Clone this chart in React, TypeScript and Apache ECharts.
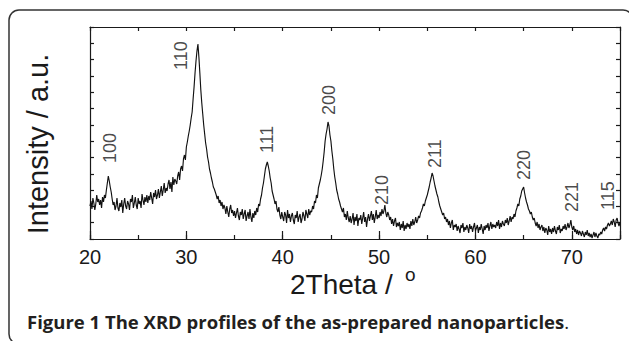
import React, { useEffect, useRef } from "react";
import * as echarts from "echarts";

// XRD scan: start angle and step (degrees 2θ), intensity in arbitrary units
const scanStart = 20;
const scanStep = 0.1;
const intensity = [
  33, 38, 30, 41, 36, 29, 35, 44, 37, 40, // 20
  34, 39, 31, 42, 37, 44, 41, 49, 56, 63, // 21
  58, 52, 47, 40, 34, 37, 29, 33, 41, 31, // 22
  28, 36, 32, 39, 26, 35, 41, 33, 30, 38, // 23
  35, 29, 40, 37, 44, 31, 36, 42, 34, 30, // 24
  41, 35, 38, 31, 45, 39, 34, 42, 37, 44, // 25
  36, 43, 39, 47, 41, 35, 46, 42, 49, 40, // 26
  44, 50, 41, 47, 53, 43, 49, 56, 46, 51, // 27
  48, 55, 59, 50, 57, 47, 62, 54, 60, 58, // 28
  55, 63, 67, 59, 70, 73, 68, 80, 84, 79, // 29
  92, 97, 103, 108, 114, 121, 127, 140, 152, 166, // 30
  178, 188, 195, 182, 166, 149, 136, 125, 114, 105, // 31
  96, 90, 82, 77, 70, 66, 61, 57, 52, 50, // 32
  47, 44, 40, 43, 36, 39, 33, 37, 30, 34, // 33
  31, 25, 33, 27, 22, 30, 34, 26, 29, 23, // 34
  28, 21, 26, 31, 23, 19, 27, 24, 30, 20, // 35
  25, 29, 18, 23, 27, 20, 30, 22, 17, 26, // 36
  21, 28, 24, 31, 27, 35, 33, 40, 44, 51, // 37
  56, 63, 70, 74, 77, 73, 68, 61, 56, 48, // 38
  44, 40, 35, 38, 30, 27, 32, 24, 20, 27, // 39
  22, 18, 27, 24, 16, 29, 21, 25, 17, 23, // 40
  26, 19, 15, 24, 21, 28, 17, 22, 25, 16, // 41
  20, 27, 23, 18, 29, 25, 21, 30, 24, 28, // 42
  27, 33, 30, 38, 36, 44, 41, 51, 55, 59, // 43
  64, 70, 78, 87, 98, 105, 110, 117, 113, 104, // 44
  98, 88, 80, 70, 62, 56, 49, 45, 40, 37, // 45
  33, 30, 27, 31, 22, 25, 19, 28, 21, 17, // 46
  23, 16, 20, 26, 14, 22, 18, 25, 13, 21, // 47
  19, 24, 15, 21, 27, 17, 22, 12, 20, 25, // 48
  18, 23, 28, 19, 25, 16, 22, 29, 20, 24, // 49
  21, 27, 23, 30, 25, 28, 34, 26, 22, 27, // 50
  24, 19, 22, 15, 20, 13, 18, 21, 12, 16, // 51
  13, 17, 9, 15, 11, 18, 8, 14, 10, 16, // 52
  12, 15, 10, 18, 13, 20, 14, 17, 22, 16, // 53
  19, 23, 21, 26, 28, 31, 35, 33, 38, 41, // 54
  44, 48, 52, 57, 61, 66, 63, 58, 53, 49, // 55
  45, 42, 37, 33, 30, 27, 24, 26, 20, 22, // 56
  17, 20, 14, 18, 11, 16, 19, 9, 14, 12, // 57
  15, 8, 13, 10, 6, 14, 11, 16, 7, 12, // 58
  9, 14, 11, 6, 15, 10, 13, 7, 12, 16, // 59
  8, 11, 14, 6, 12, 9, 15, 10, 5, 13, // 60
  9, 14, 11, 16, 8, 13, 17, 10, 15, 12, // 61
  14, 11, 17, 13, 19, 10, 16, 12, 18, 15, // 62
  13, 19, 16, 21, 14, 18, 23, 17, 22, 20, // 63
  25, 22, 28, 31, 35, 33, 40, 43, 48, 50, // 64
  52, 46, 41, 37, 34, 30, 28, 25, 27, 22, // 65
  19, 21, 16, 13, 17, 11, 15, 9, 12, 14, // 66
  8, 12, 6, 11, 9, 4, 13, 7, 10, 5, // 67
  11, 7, 13, 8, 5, 12, 9, 14, 6, 10, // 68
  8, 13, 10, 15, 9, 12, 16, 11, 14, 19, // 69
  12, 9, 13, 7, 10, 5, 9, 4, 8, 6, // 70
  3, 8, 5, 2, 7, 4, 9, 3, 6, 2, // 71
  5, 1, 4, 7, 2, 6, 3, 1, 5, 4, // 72
  7, 5, 9, 11, 8, 12, 10, 14, 16, 13, // 73
  15, 18, 14, 20, 17, 12, 19, 21, 16, 13, // 74
  17, // 75
];

// Miller-index annotations
const peakLabels = ["100", "110", "111", "200", "210", "211", "220", "221", "115"];
const peakLabelAngles = [22.1, 29.4, 38.4, 44.8, 50.3, 55.8, 65.0, 70.0, 73.8];
const peakLabelHeights = [76, 169, 86, 124, 34, 71, 59, 27, 29];

const xTickLabels = [20, 30, 40, 50, 60, 70];
const xMin = 20;
const xMax = 75;
const yMax = 212;
const yDivisions = 13;

const ink = "#1a1a1a";
const font = "'Liberation Sans', Arial, sans-serif";
const captionFont = "'Open Sans', 'Noto Sans', sans-serif";

export default function App() {
  const ref = useRef<HTMLDivElement>(null);

  useEffect(() => {
    document.body.style.margin = "0";
    if (!ref.current) return;
    const chart = echarts.init(ref.current, null, { renderer: "svg" });

    const lineData = intensity.map((v, i) => [
      Math.round((scanStart + i * scanStep) * 10) / 10,
      v,
    ]);
    const labelData = peakLabels.map((name, i) => ({
      name,
      value: [peakLabelAngles[i], peakLabelHeights[i]],
    }));

    const axisLineStyle = { color: ink, width: 1.2 };
    const yStep = yMax / yDivisions;

    const option: any = {
      animation: false,
      grid: { left: 90, right: 9, top: 27, bottom: 102, containLabel: false },
      xAxis: [
        {
          type: "value",
          min: xMin,
          max: xMax,
          interval: 5,
          position: "bottom",
          axisLine: { show: true, onZero: false, lineStyle: axisLineStyle },
          axisTick: { show: true, inside: true, length: 4, lineStyle: axisLineStyle },
          axisLabel: { show: false },
          splitLine: { show: false },
        },
        {
          type: "value",
          min: xMin,
          max: xMax,
          interval: 10,
          position: "bottom",
          axisLine: { show: false, onZero: false },
          axisTick: { show: true, inside: true, length: 8, lineStyle: axisLineStyle },
          axisLabel: {
            show: true,
            margin: 8,
            fontSize: 20,
            fontFamily: font,
            color: ink,
            formatter: (v: number) => (xTickLabels.includes(v) ? String(v) : ""),
          },
          splitLine: { show: false },
        },
        {
          type: "value",
          min: xMin,
          max: xMax,
          interval: 5,
          position: "top",
          axisLine: { show: true, onZero: false, lineStyle: axisLineStyle },
          axisTick: { show: true, inside: true, length: 4, lineStyle: axisLineStyle },
          axisLabel: { show: false },
          splitLine: { show: false },
        },
      ],
      yAxis: [
        {
          type: "value",
          min: 0,
          max: yMax,
          interval: yStep,
          position: "left",
          axisLine: { show: true, onZero: false, lineStyle: axisLineStyle },
          axisTick: { show: true, inside: true, length: 4, lineStyle: axisLineStyle },
          axisLabel: { show: false },
          splitLine: { show: false },
        },
        {
          type: "value",
          min: 0,
          max: yMax,
          interval: yStep,
          position: "right",
          axisLine: { show: true, onZero: false, lineStyle: axisLineStyle },
          axisTick: { show: true, inside: true, length: 4, lineStyle: axisLineStyle },
          axisLabel: { show: false },
          splitLine: { show: false },
        },
      ],
      series: [
        {
          type: "line",
          xAxisIndex: 0,
          yAxisIndex: 0,
          data: lineData,
          showSymbol: false,
          symbol: "none",
          lineStyle: { color: "#111", width: 1.15 },
          itemStyle: { color: "#111" },
          silent: true,
        },
        {
          type: "scatter",
          xAxisIndex: 0,
          yAxisIndex: 0,
          data: labelData,
          symbolSize: 0,
          silent: true,
          label: {
            show: true,
            formatter: "{b}",
            rotate: 90,
            position: [0, 0],
            align: "left",
            verticalAlign: "middle",
            fontSize: 18,
            fontFamily: font,
            color: ink,
          },
        },
      ],
      graphic: [
        {
          type: "rect",
          silent: true,
          z: -10,
          shape: { x: 9, y: 10, width: 624, height: 334, r: 10 },
          style: { fill: "none", stroke: "#333", lineWidth: 1.5 },
        },
        {
          type: "text",
          silent: true,
          x: 38,
          y: 144,
          rotation: Math.PI / 2,
          style: {
            text: "Intensity / a.u.",
            font: `29px ${font}`,
            fill: ink,
            align: "center",
            verticalAlign: "middle",
          },
        },
        {
          type: "text",
          silent: true,
          x: 290,
          y: 284,
          style: {
            text: "2Theta / ",
            font: `28px ${font}`,
            fill: ink,
            align: "left",
            verticalAlign: "middle",
          },
        },
        {
          type: "text",
          silent: true,
          x: 405,
          y: 274,
          style: {
            text: "o",
            font: `19px ${font}`,
            fill: ink,
            align: "left",
            verticalAlign: "middle",
          },
        },
        {
          type: "text",
          silent: true,
          x: 27,
          y: 321,
          style: {
            text: "{b|Figure 1 The XRD profiles of the as-prepared nanoparticles}{n|.}",
            align: "left",
            verticalAlign: "middle",
            rich: {
              b: {
                fontFamily: captionFont,
                fontWeight: "bold",
                fontSize: 18.5,
                fill: "#231f20",
                color: "#231f20",
              },
              n: {
                fontFamily: captionFont,
                fontWeight: "normal",
                fontSize: 18.5,
                fill: "#231f20",
                color: "#231f20",
              },
            },
          },
        },
      ],
    };

    chart.setOption(option);
    return () => chart.dispose();
  }, []);

  return <div ref={ref} style={{ width: 629, height: 341 }} />;
}
